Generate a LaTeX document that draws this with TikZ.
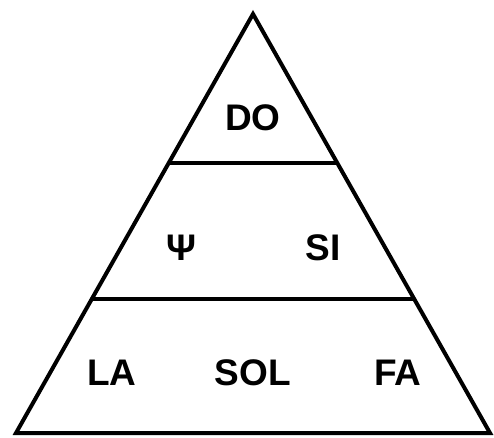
\documentclass[tikz,border=0pt]{standalone}
\usepackage{fontspec}
\setmainfont{Liberation Sans}
\usetikzlibrary{calc}
\begin{document}
\begin{tikzpicture}[x=1pt,y=-1pt,
  edge/.style={line width=4pt,line join=miter,line cap=butt},
  note/.style={font=\bfseries\fontsize{37}{42}\selectfont,inner sep=0pt,anchor=center}]
\useasboundingbox (0,0) rectangle (494,437);
\coordinate (A) at (253,14);
\coordinate (L) at (16,433);
\coordinate (R) at (490,433);
\draw[edge] (A) -- (L) -- (R) -- cycle;
\draw[edge] ($(A)!0.355!(L)$) -- ($(A)!0.355!(R)$);
\draw[edge] ($(A)!0.681!(L)$) -- ($(A)!0.681!(R)$);
\node[note] (do) at (253,118) {DO};
\node[note] (psi) at (181,248) {Ψ};
\node[note] (si) at (323,248) {SI};
\node[note] (la) at (112,373) {LA};
\node[note] (sol) at (253,373) {SOL};
\node[note] (fa) at (398,373) {FA};
\end{tikzpicture}
\end{document}
